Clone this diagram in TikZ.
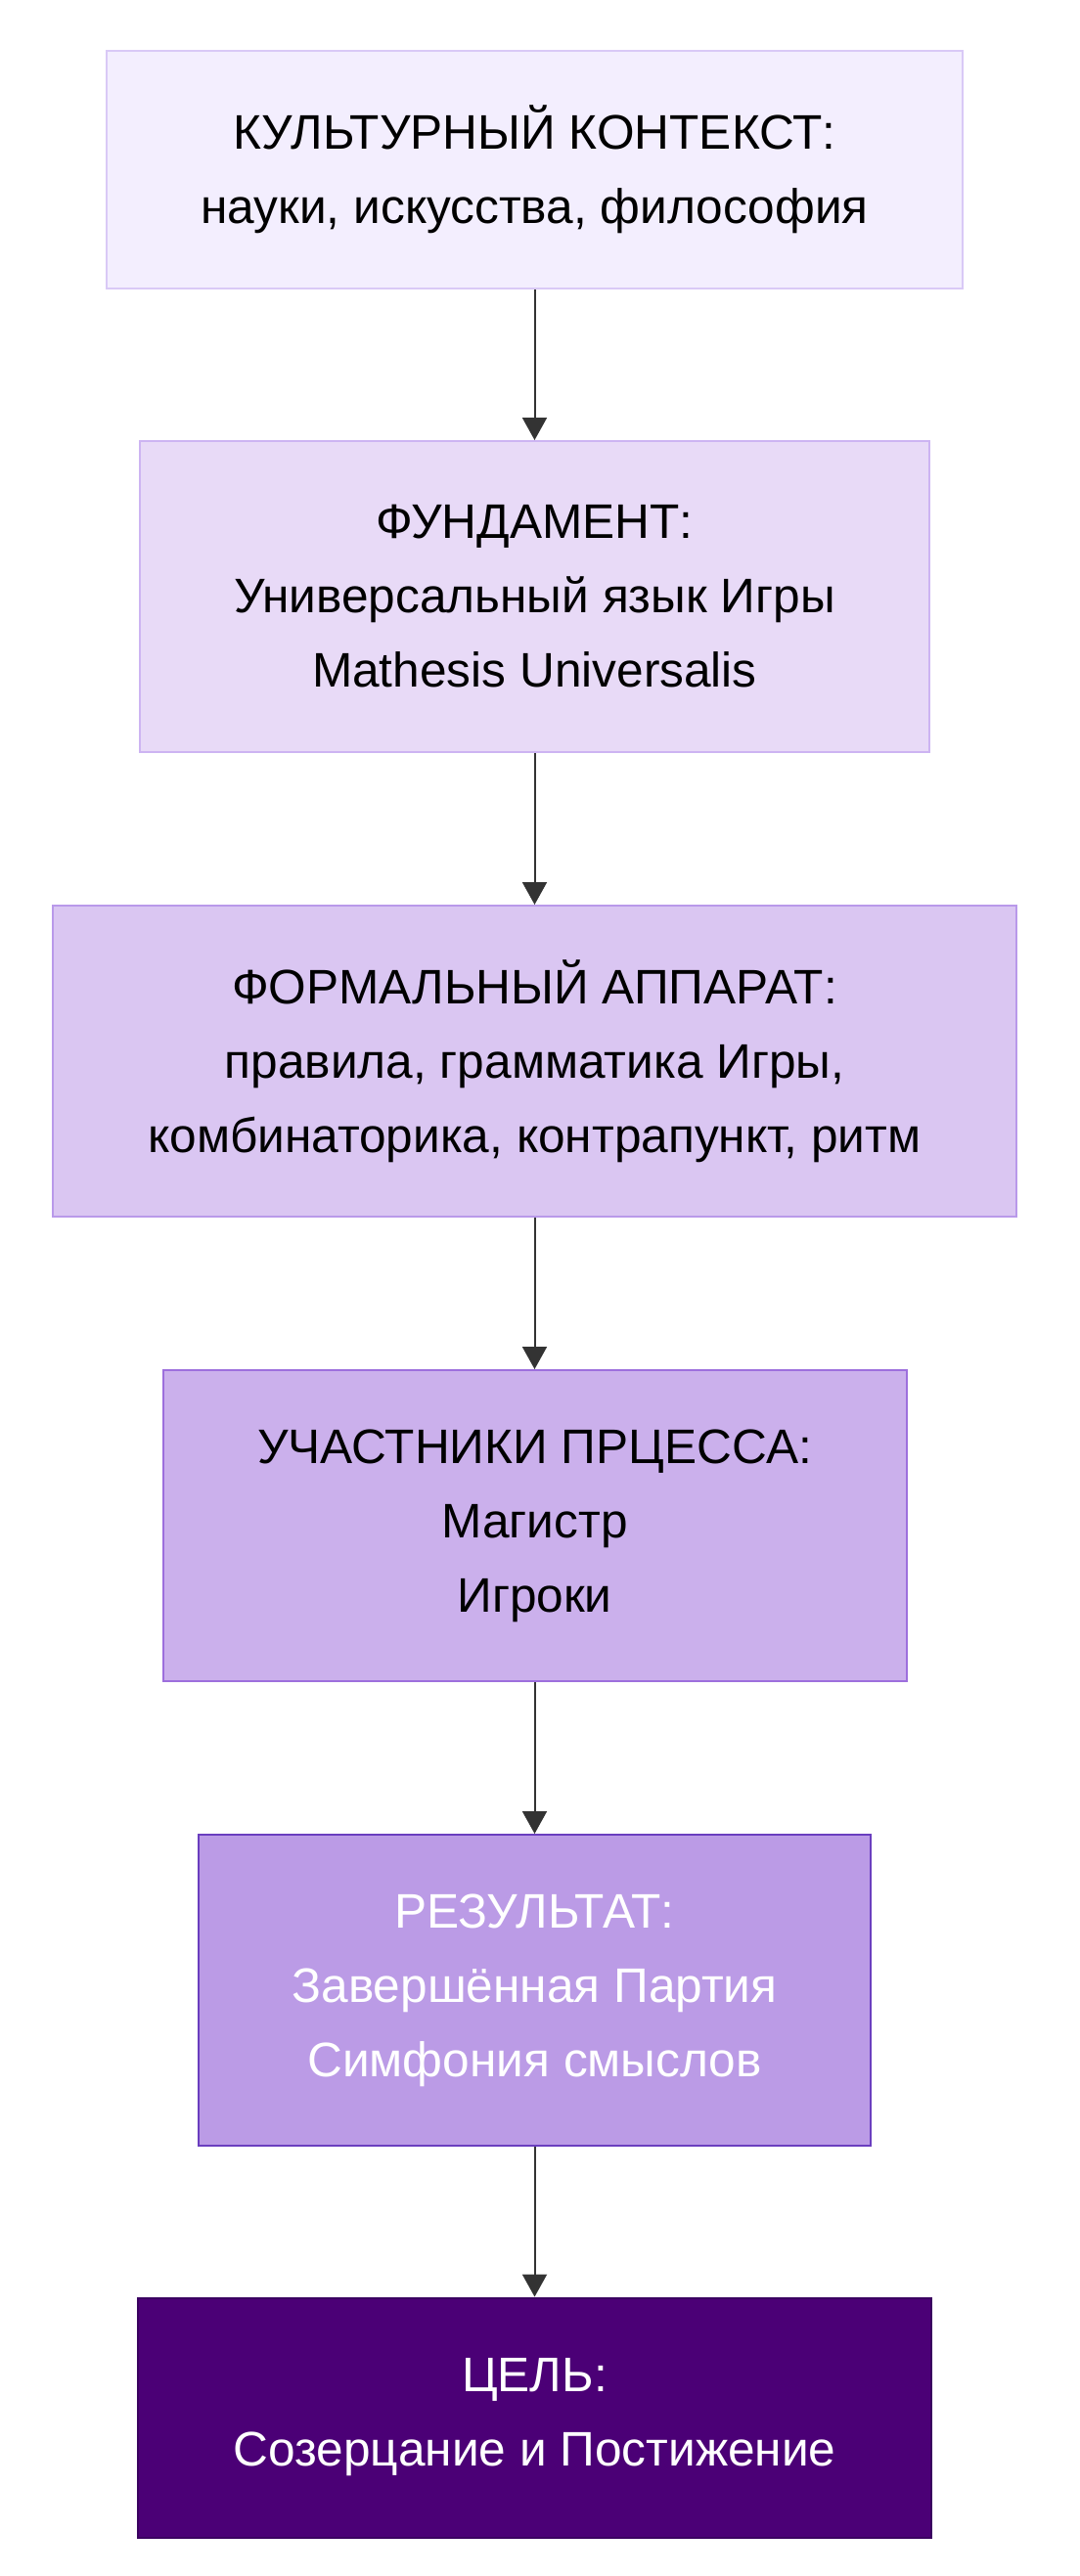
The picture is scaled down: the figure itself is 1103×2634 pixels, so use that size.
\documentclass[tikz,border=0pt]{standalone}
\usepackage{fontspec}
\setmainfont{Liberation Sans}
\usetikzlibrary{arrows.meta,positioning}
\definecolor{fillA}{HTML}{F3EEFE}\definecolor{lineA}{HTML}{D9C9F6}
\definecolor{fillB}{HTML}{E8DAF7}\definecolor{lineB}{HTML}{CDB4F2}
\definecolor{fillC}{HTML}{DAC6F2}\definecolor{lineC}{HTML}{B999EA}
\definecolor{fillD}{HTML}{CBB0EC}\definecolor{lineD}{HTML}{9D6FDD}
\definecolor{fillE}{HTML}{BB9BE6}\definecolor{lineE}{HTML}{6A3EBF}
\definecolor{fillF}{HTML}{4B0076}\definecolor{lineF}{HTML}{3A0060}
\definecolor{arrowgray}{HTML}{333333}

\begin{document}
\begin{tikzpicture}[x=0.5pt,y=-0.5pt,
		stage/.style={draw, line width=1pt, align=center, inner sep=0pt,
			font=\fontsize{24.8pt}{38pt}\selectfont},
		flow/.style={-{Triangle[length=11.5pt,width=12.5pt]}, line width=1pt, draw=arrowgray}]
			\useasboundingbox (0,0) rectangle (1103,2634);
			\node[stage, fill=fillA, draw=lineA, minimum width=437.5pt, minimum height=121.5pt] (kontekst) at (546.5,173.5)
				{КУЛЬТУРНЫЙ КОНТЕКСТ:\\ науки, искусства, философия};
			\node[stage, fill=fillB, draw=lineB, minimum width=403.5pt, minimum height=159pt] (fundament) at (546.5,610)
				{ФУНДАМЕНТ:\\ Универсальный язык Игры\\ Mathesis Universalis};
			\node[stage, fill=fillC, draw=lineC, minimum width=492.5pt, minimum height=159pt] (apparat) at (546.5,1085)
				{ФОРМАЛЬНЫЙ АППАРАТ:\\ правила, грамматика Игры,\\ комбинаторика, контрапункт, ритм};
			\node[stage, fill=fillD, draw=lineD, minimum width=380pt, minimum height=159pt] (uchastniki) at (546.5,1560)
				{УЧАСТНИКИ ПРЦЕССА:\\ Магистр\\ Игроки};
			\node[stage, fill=fillE, draw=lineE, text=white, minimum width=343.5pt, minimum height=159pt] (rezultat) at (546.5,2035)
				{РЕЗУЛЬТАТ:\\ Завершённая Партия\\ Симфония смыслов};
			\node[stage, fill=fillF, draw=lineF, text=white, minimum width=405.5pt, minimum height=122.5pt] (cel) at (546.5,2472)
				{ЦЕЛЬ:\\ Созерцание и Постижение};
			\draw[flow] (kontekst)--(fundament);
			\draw[flow] (fundament)--(apparat);
			\draw[flow] (apparat)--(uchastniki);
			\draw[flow] (uchastniki)--(rezultat);
			\draw[flow] (rezultat)--(cel);
		\end{tikzpicture}
\end{document}
